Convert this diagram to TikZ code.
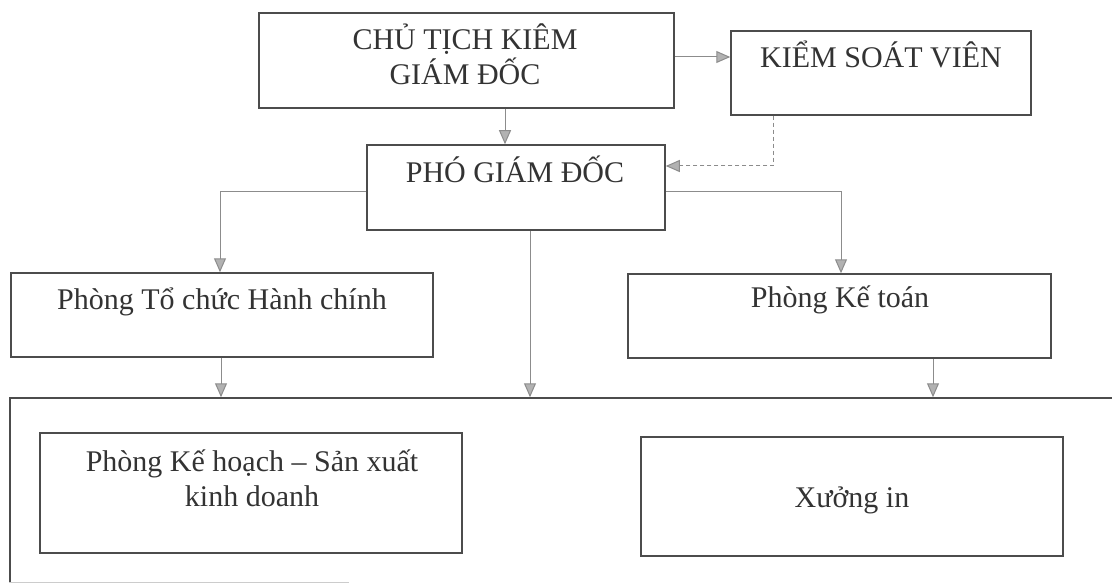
\documentclass[tikz,border=0pt]{standalone}
\usepackage{fontspec}
\setmainfont{Liberation Serif}
\usetikzlibrary{arrows.meta}

\begin{document}
\begin{tikzpicture}[%
        x = 1pt, y = -1pt,
        > = {Triangle[length=14pt, width=12pt, fill=black!30]},
        box/.style = {draw=black!70, line width=1.5pt, inner sep=0pt},
        conn/.style = {draw=black!45, line width=1pt, ->},
        lbl/.style = {anchor=base, inner sep=0pt, text=black!80,
                      font=\fontsize{30}{35}\selectfont}
    ]

        \clip (0,0) rectangle (1112,583);

        % Boxes of the chart.
        \node[box, minimum width=415, minimum height=95] (ct)   at (466.5, 60.5) {};
        \node[box, minimum width=300, minimum height=84] (ksv)  at (881, 73)     {};
        \node[box, minimum width=298, minimum height=85] (pgd)  at (516, 187.5)  {};
        \node[box, minimum width=422, minimum height=84] (tchc) at (222, 315)    {};
        \node[box, minimum width=423, minimum height=84] (kt)   at (839.5, 316)  {};
        \node[box, minimum width=1120, minimum height=202] (grp) at (570, 499)   {};
        \node[box, minimum width=422, minimum height=120] (kh)  at (251, 493)    {};
        \node[box, minimum width=422, minimum height=119] (xi)  at (852, 496.5)  {};

        % Texts.
        \node[lbl] (ctA)  at (465, 50)  {CHỦ TỊCH KIÊM};
        \node[lbl] (ctB)  at (465, 85)  {GIÁM ĐỐC};
        \node[lbl] (ksvT) at (881, 68)  {KIỂM SOÁT VIÊN};
        \node[lbl] (pgdT) at (515, 183) {PHÓ GIÁM ĐỐC};
        \node[lbl] (tchcT) at (222, 309) {Phòng Tổ chức Hành chính};
        \node[lbl] (ktT)  at (840, 307) {Phòng Kế toán};
        \node[lbl] (khA)  at (252, 471) {Phòng Kế hoạch – Sản xuất};
        \node[lbl] (khB)  at (252, 506) {kinh doanh};
        \node[lbl] (xiT)  at (852, 507) {Xưởng in};

        % Where the connectors run.
        \coordinate (yc) at (0, 57);
        \coordinate (yd) at (0, 166);
        \coordinate (yl) at (0, 192);
        \coordinate (yb) at (0, 582);
        \coordinate (xa) at (505, 0);
        \coordinate (xd) at (773, 0);
        \coordinate (xl) at (220, 0);
        \coordinate (xr) at (841, 0);
        \coordinate (xm) at (530, 0);
        \coordinate (xt) at (221, 0);
        \coordinate (xk) at (933, 0);

        % Connectors.
        \draw[conn] (ct.east |- yc) -- (ksv.west |- yc);
        \draw[conn] (ct.south -| xa) -- (pgd.north -| xa);
        \draw[conn, dash pattern=on 4pt off 3pt] (ksv.south -| xd) |- (pgd.east |- yd);
        \draw[conn] (pgd.west |- yl) -| (tchc.north -| xl);
        \draw[conn] (pgd.east |- yl) -| (kt.north -| xr);
        \draw[conn] (pgd.south -| xm) -- (grp.north -| xm);
        \draw[conn] (tchc.south -| xt) -- (grp.north -| xt);
        \draw[conn] (kt.south -| xk) -- (grp.north -| xk);

        % Faint bottom edge of the outer box.
        \draw[black!20, line width=1pt] (grp.west |- yb) -- ++(340, 0);
    \end{tikzpicture}
\end{document}
